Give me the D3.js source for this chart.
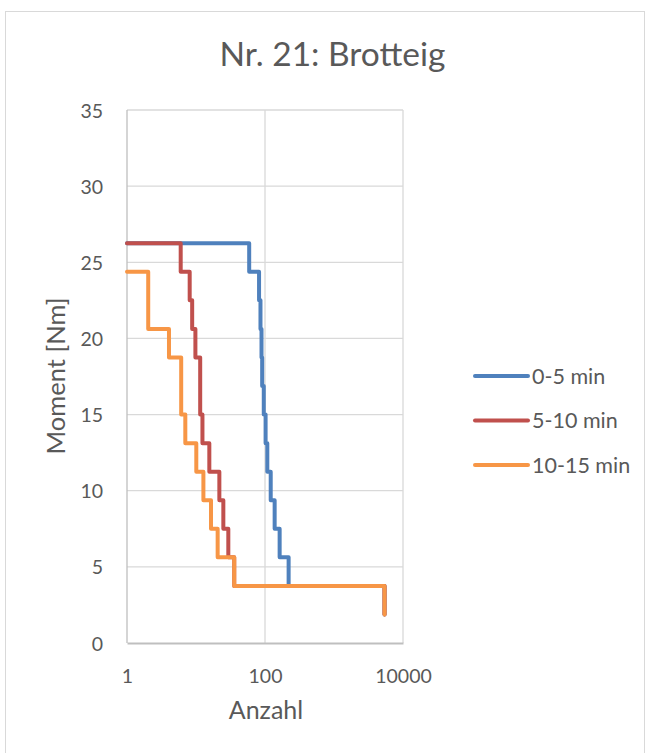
<!DOCTYPE html>
<html>
<head>
<meta charset="utf-8">
<script src="https://cdn.jsdelivr.net/npm/d3@7"></script>
<style>
  body { margin: 0; background: #fff; }
  text { font-family: Lato, "Open Sans", sans-serif; fill: #595959; }
</style>
</head>
<body>
<svg id="chart" width="650" height="753"></svg>
<script>
// data: step points (count, moment)
const seriesNames = ["0-5 min", "5-10 min", "10-15 min"];
const colors = ["#4f81bd", "#c0504d", "#f79646"];

const blueX = [1, 59, 82, 86, 89, 91, 96, 102, 108, 121, 138, 163, 220, 5400];
const blueY = [26.25, 24.375, 22.5, 20.625, 18.75, 16.875, 15, 13.125, 11.25, 9.375, 7.5, 5.625, 3.75, 1.875];

const redX = [1, 6, 8.1, 8.8, 9.8, 11.5, 11.5, 12.4, 15.6, 21.8, 24.9, 29.4, 35.8, 5400];
const redY = [26.25, 24.375, 22.5, 20.625, 18.75, 16.875, 15, 13.125, 11.25, 9.375, 7.5, 5.625, 3.75, 1.875];

const orangeX = [1, 2.03, 2.03, 4.06, 6.1, 6.1, 7.0, 10.1, 12.8, 16.5, 20.6, 35.8, 5400];
const orangeY = [24.375, 22.5, 20.625, 18.75, 16.875, 15, 13.125, 11.25, 9.375, 7.5, 5.625, 3.75, 1.875];

const xTicks = [1, 100, 10000];
const yTicks = [0, 5, 10, 15, 20, 25, 30, 35];

const series = [
  { name: seriesNames[0], pts: blueX.map((x, i) => [x, blueY[i]]) },
  { name: seriesNames[1], pts: redX.map((x, i) => [x, redY[i]]) },
  { name: seriesNames[2], pts: orangeX.map((x, i) => [x, orangeY[i]]) }
];

const svg = d3.select("#chart");
const margin = { top: 110, left: 127, right: 247, bottom: 110 };
const innerWidth = 650 - margin.left - margin.right;
const innerHeight = 753 - margin.top - margin.bottom;

// chart border
svg.append("rect")
  .attr("x", 5.5).attr("y", 11.5)
  .attr("width", 639).attr("height", 760)
  .attr("fill", "none").attr("stroke", "#d9d9d9");

svg.append("text")
  .attr("x", 332.5).attr("y", 66)
  .attr("text-anchor", "middle")
  .style("font-size", "33.5px")
  .text("Nr. 21: Brotteig");

const g = svg.append("g")
  .attr("transform", `translate(${margin.left},${margin.top})`);

const x = d3.scaleLog().domain([1, 10000]).range([0, innerWidth]);
const y = d3.scaleLinear().domain([0, 35]).range([innerHeight, 0]);

// gridlines
g.append("g").selectAll("line")
  .data(yTicks.slice(1))
  .enter().append("line")
    .attr("x1", 0).attr("x2", innerWidth)
    .attr("y1", d => y(d)).attr("y2", d => y(d))
    .attr("stroke", "#d9d9d9").attr("stroke-width", 1.3);

g.append("g").selectAll("line")
  .data(xTicks)
  .enter().append("line")
    .attr("x1", d => x(d)).attr("x2", d => x(d))
    .attr("y1", 0).attr("y2", innerHeight)
    .attr("stroke", d => d === 1 ? "#bfbfbf" : "#d9d9d9")
    .attr("stroke-width", 1.3);

// axes
const xAxis = g.append("g")
  .attr("transform", `translate(0,${innerHeight})`)
  .call(d3.axisBottom(x).tickValues(xTicks).tickFormat(d3.format("d")).tickSize(0).tickPadding(0));
xAxis.select(".domain").attr("stroke", "#bfbfbf").attr("stroke-width", 2);
xAxis.selectAll(".tick text").attr("dy", null).attr("y", 40);

const yAxis = g.append("g")
  .call(d3.axisLeft(y).tickValues(yTicks).tickSize(0).tickPadding(24));
yAxis.select(".domain").remove();
yAxis.selectAll(".tick text").attr("dy", "0.36em");

g.selectAll(".tick text").style("font-size", "19.5px").attr("fill", "#595959")
  .style("font-family", "Lato, 'Open Sans', sans-serif");

// axis titles
g.append("text")
  .attr("x", innerWidth / 2 + 1).attr("y", 719 - margin.top)
  .attr("text-anchor", "middle")
  .style("font-size", "25px")
  .text("Anzahl");

g.append("text")
  .attr("transform", "rotate(-90)")
  .attr("x", -(376 - margin.top)).attr("y", 65 - margin.left)
  .attr("text-anchor", "middle")
  .style("font-size", "25.5px")
  .text("Moment [Nm]");

// step lines
const line = d3.line()
  .x(d => x(d[0]))
  .y(d => y(d[1]))
  .curve(d3.curveStepAfter);

g.append("g").selectAll("path")
  .data(series)
  .enter().append("path")
    .attr("d", d => line(d.pts))
    .attr("fill", "none")
    .attr("stroke", (d, i) => colors[i])
    .attr("stroke-width", 4)
    .attr("stroke-linejoin", "round")
    .attr("stroke-linecap", "round");

// legend
const legend = svg.append("g").attr("transform", "translate(475,376)");
legend.selectAll("line")
  .data(seriesNames)
  .enter().append("line")
    .attr("x1", 0).attr("x2", 53)
    .attr("y1", (d, i) => i * 44.5).attr("y2", (d, i) => i * 44.5)
    .attr("stroke", (d, i) => colors[i])
    .attr("stroke-width", 4)
    .attr("stroke-linecap", "round");
legend.selectAll("text")
  .data(seriesNames)
  .enter().append("text")
    .attr("x", 57)
    .attr("y", (d, i) => i * 44.5 + 7.5)
    .style("font-size", "21.5px")
    .text(d => d);
</script>
</body>
</html>
